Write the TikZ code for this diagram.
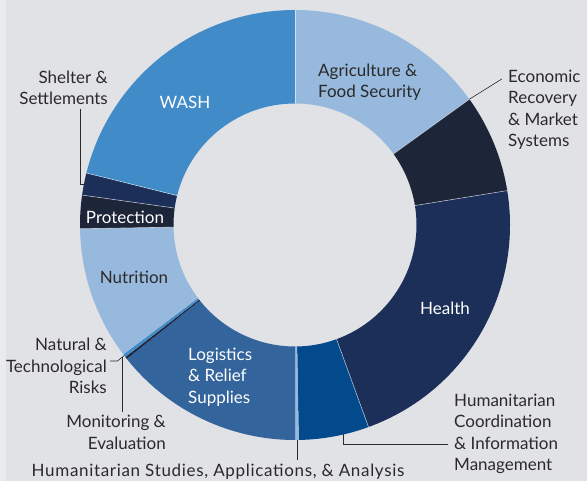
\documentclass[tikz,border=0pt]{standalone}
\usepackage{fontspec}
\setmainfont{Lato}
\usetikzlibrary{calc}
\definecolor{bg}{HTML}{E1E2E6}
\definecolor{strip}{HTML}{EAEBEE}
\definecolor{washblue}{HTML}{418BC8}
\definecolor{lightblue}{HTML}{97B9DD}
\definecolor{darkest}{HTML}{1D2538}
\definecolor{navy}{HTML}{1B2F59}
\definecolor{coordblue}{HTML}{024A8C}
\definecolor{logiblue}{HTML}{33649B}
\definecolor{txt}{HTML}{2B2A29}
\newcommand\donutslice[3]{\fill[#3] (#1:215pt) arc[start angle=#1, end angle=#2, radius=215pt] -- (#2:121.5pt) arc[start angle=#2, end angle=#1, radius=121.5pt] -- cycle;}
\begin{document}
\begin{tikzpicture}[x=1pt,y=1pt,
  lbl/.style={font=\fontsize{17}{21.5}\selectfont, text=txt, inner sep=0pt},
  wlbl/.style={lbl, text=white},
  leader/.style={draw=txt, line width=0.6pt},
  sep/.style={draw=white, opacity=0.6, line width=0.6pt}]
\useasboundingbox (0,0) rectangle (587,481);
\fill[bg] (0,0) rectangle (587,481);
\fill[strip] (0,0) rectangle (5.5,481);
\begin{scope}[shift={(295,256)}]
\donutslice{35.8}{90}{lightblue}
\donutslice{9.2}{35.8}{darkest}
\donutslice{-70}{9.2}{navy}
\donutslice{-89}{-70}{coordblue}
\donutslice{-90}{-89}{lightblue}
\donutslice{-141.5}{-90}{logiblue}
\donutslice{-142.1}{-141.5}{darkest}
\donutslice{-143}{-142.1}{washblue}
\donutslice{-179}{-143}{lightblue}
\donutslice{172}{181}{darkest}
\donutslice{166}{172}{navy}
\donutslice{90}{166}{washblue}
\foreach \a in {90,35.8,9.2,-70,166,172,181} \draw[sep] (\a:121.5pt) -- (\a:215pt);
\coordinate (shelterpt) at (169:215pt);
\coordinate (econpt) at (35.8:215pt);
\coordinate (coordpt) at (-77:215pt);
\coordinate (studpt) at (-89.5:215pt);
\coordinate (natpt) at (-142.6:215pt);
\end{scope}
\coordinate (monpt) at (122.5,124);
% labels
\node[lbl, anchor=east, align=right] (shelter) at (108,393) {Shelter \&\\Settlements};
\node[wlbl] (wash) at (185,379) {WASH};
\node[lbl, anchor=west, align=left] (agri) at (318,399) {Agriculture \&\\Food Security};
\node[lbl, anchor=west, align=left] (econ) at (508,371) {Economic\\Recovery\\\& Market\\Systems};
\node[wlbl] (prot) at (125,264) {Protection};
\node[lbl] (nutr) at (134,204) {Nutrition};
\node[lbl, anchor=east, align=right] (natural) at (107,115) {Natural \&\\Technological\\Risks};
\node[wlbl, anchor=west, align=left] (logi) at (188,104) {Logistics\\\& Relief\\Supplies};
\node[wlbl] (health) at (445,173) {Health};
\node[lbl, anchor=west, align=left] (coord) at (454,47) {Humanitarian\\Coordination\\\& Information\\Management};
\node[lbl, anchor=east, align=right] (monit) at (166,48.5) {Monitoring \&\\Evaluation};
\node[lbl] (stud) at (218,9) {\addfontfeature{LetterSpace=4}Humanitarian Studies, Applications, \& Analysis};
% leaders
\draw[leader] ($(shelter.south -| 80.5,0)+(0,-3.5)$) -- (80.5,0 |- shelterpt) -- (shelterpt);
\draw[leader] (econpt) -- ($(econ.north west)+(-6,-9)$);
\draw[leader] (coordpt) |- ($(coord.west)+(-6,-10)$);
\draw[leader, shorten >=4pt] (studpt) -- (studpt |- stud.north);
\draw[leader] ($(natural.east)+(3,5)$) -- ++(7.5,0) -- (natpt);
\draw[leader] ($(monit.north east)+(-43.5,3)$) -- (monpt);
\end{tikzpicture}
\end{document}
